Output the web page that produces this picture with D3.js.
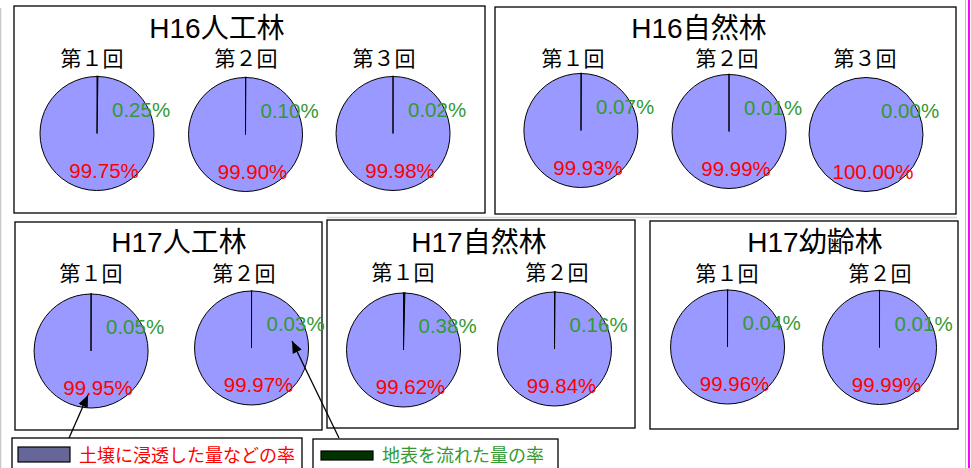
<!DOCTYPE html>
<html>
<head>
<meta charset="utf-8">
<script src="https://cdn.jsdelivr.net/npm/d3@7"></script>
<style>
  body { margin: 0; background: #fff; }
  svg { display: block; }
</style>
</head>
<body>
<script>
// ---- data ----
const groups = ["H16人工林", "H16自然林", "H17人工林", "H17自然林", "H17幼齢林"];
const rounds = [
  ["第１回", "第２回", "第３回"],
  ["第１回", "第２回", "第３回"],
  ["第１回", "第２回"],
  ["第１回", "第２回"],
  ["第１回", "第２回"]
];
// 土壌に浸透した量などの率 (%)
const soilRate = [
  [99.75, 99.90, 99.98],
  [99.93, 99.99, 100.00],
  [99.95, 99.97],
  [99.62, 99.84],
  [99.96, 99.99]
];
// 地表を流れた量の率 (%)
const runoffRate = [
  [0.25, 0.10, 0.02],
  [0.07, 0.01, 0.00],
  [0.05, 0.03],
  [0.38, 0.16],
  [0.04, 0.01]
];
const seriesKeys = ["runoff", "soil"];
const legendLabels = ["土壌に浸透した量などの率", "地表を流れた量の率"];

// ---- layout ----
const WIDTH = 971, HEIGHT = 468;
const R = 57;
const FONT = "'Liberation Sans', Arial, 'Noto Sans CJK JP', sans-serif";
const boxes = [[14, 6, 471, 207], [495, 7, 461, 207], [15, 222, 307, 208], [327, 220, 308, 208], [650, 221, 308, 208]];
const titlePos = [[217, 38], [699, 38], [179, 252], [479, 252], [815, 252]];
const pieCenters = [
  [[97, 133.5], [245.5, 134.5], [393, 133.5]],
  [[581, 130.5], [729, 131.5], [866, 134.5]],
  [[91, 351], [251.5, 348]],
  [[403.5, 350], [554.5, 349]],
  [[727.5, 347], [879.5, 347.5]]
];
const subX = [[92, 246, 384], [573, 727, 865], [91, 244], [403, 557], [727, 880]];
const subY = [66, 66, 281, 280, 281];

const sliceColor = d3.scaleOrdinal().domain(seriesKeys).range(["#003300", "#9999FF"]);
const labelColor = d3.scaleOrdinal().domain(seriesKeys).range(["#339933", "#FF0000"]);

const svg = d3.select("body").append("svg")
  .attr("width", WIDTH)
  .attr("height", HEIGHT);

// page artefacts: faint guide lines and magenta edge
svg.append("line").attr("x1", 0.5).attr("x2", 0.5).attr("y1", 8).attr("y2", HEIGHT)
  .attr("stroke", "#c8c8c8").attr("stroke-width", 1.5);
svg.append("line").attr("x1", 327).attr("x2", 957).attr("y1", 217.5).attr("y2", 217.5)
  .attr("stroke", "#d8d8d8").attr("stroke-width", 1.5);
svg.append("line").attr("x1", 965.5).attr("x2", 965.5).attr("y1", 0).attr("y2", HEIGHT)
  .attr("stroke", "#bbb").attr("stroke-width", 1);
svg.append("line").attr("x1", 969).attr("x2", 969).attr("y1", 0).attr("y2", HEIGHT)
  .attr("stroke", "#FF00FF").attr("stroke-width", 2);

const pie = d3.pie().sort(null).value(d => d.value);
const arc = d3.arc().innerRadius(0).outerRadius(R);

groups.forEach((g, gi) => {
  const [bx, by, bw, bh] = boxes[gi];
  svg.append("rect")
    .attr("x", bx).attr("y", by).attr("width", bw).attr("height", bh)
    .attr("fill", "#fff").attr("stroke", "#000").attr("stroke-width", 1.3);

  svg.append("text")
    .attr("x", titlePos[gi][0]).attr("y", titlePos[gi][1])
    .attr("text-anchor", "middle")
    .attr("font-family", FONT).attr("font-size", 28)
    .text(g);

  rounds[gi].forEach((rd, ri) => {
    const [cx, cy] = pieCenters[gi][ri];
    svg.append("text")
      .attr("x", subX[gi][ri]).attr("y", subY[gi])
      .attr("text-anchor", "middle")
      .attr("font-family", FONT).attr("font-size", 21)
      .text(rd);

    const vals = [
      { key: "runoff", value: runoffRate[gi][ri] },
      { key: "soil", value: soilRate[gi][ri] }
    ];
    const gp = svg.append("g").attr("transform", `translate(${cx},${cy})`);
    gp.selectAll("path")
      .data(pie(vals))
      .enter()
      .append("path")
      .attr("d", arc)
      .attr("fill", d => sliceColor(d.data.key))
      .attr("stroke", "#000")
      .attr("stroke-width", d => d.data.key === "runoff" ? 1.6 : 1);

    // data labels (green upper right, red lower)
    gp.append("text")
      .attr("x", 15).attr("y", -17)
      .attr("font-family", FONT).attr("font-size", 20.5)
      .attr("fill", labelColor("runoff"))
      .text(runoffRate[gi][ri].toFixed(2) + "%");
    gp.append("text")
      .attr("x", 7).attr("y", 44)
      .attr("text-anchor", "middle")
      .attr("font-family", FONT).attr("font-size", 20.5)
      .attr("fill", labelColor("soil"))
      .text(soilRate[gi][ri].toFixed(2) + "%");
  });
});

// legend boxes
const legendBoxes = [[12, 438, 290, 40], [313, 439, 245, 40]];
const swatches = [[18, 447, 52, 15], [321, 451, 52, 9]];
const swatchFill = ["#666699", "#003300"];
const legendTextColor = [labelColor("soil"), labelColor("runoff")];
legendLabels.forEach((lab, i) => {
  const [x, y, w, h] = legendBoxes[i];
  svg.append("rect").attr("x", x).attr("y", y).attr("width", w).attr("height", h)
    .attr("fill", "#fff").attr("stroke", "#000").attr("stroke-width", 1.3);
  const s = swatches[i];
  svg.append("rect").attr("x", s[0]).attr("y", s[1]).attr("width", s[2]).attr("height", s[3])
    .attr("fill", swatchFill[i]).attr("stroke", "#000").attr("stroke-width", 1.2);
  svg.append("text")
    .attr("x", s[0] + s[2] + 9).attr("y", 462)
    .attr("font-family", FONT).attr("font-size", 18)
    .attr("fill", legendTextColor[i])
    .text(lab);
});

// arrows from legend to pies
const defs = svg.append("defs");
defs.append("marker")
  .attr("id", "ah")
  .attr("markerUnits", "userSpaceOnUse")
  .attr("markerWidth", 14).attr("markerHeight", 12)
  .attr("refX", 12).attr("refY", 5)
  .attr("orient", "auto")
  .append("path")
  .attr("d", "M0,0 L12,5 L0,10 Z")
  .attr("fill", "#000");
const arrows = [[69, 438, 88, 395], [339, 438, 292, 341]];
arrows.forEach(a => {
  svg.append("line")
    .attr("x1", a[0]).attr("y1", a[1]).attr("x2", a[2]).attr("y2", a[3])
    .attr("stroke", "#000").attr("stroke-width", 1.3)
    .attr("marker-end", "url(#ah)");
});
</script>
</body>
</html>
